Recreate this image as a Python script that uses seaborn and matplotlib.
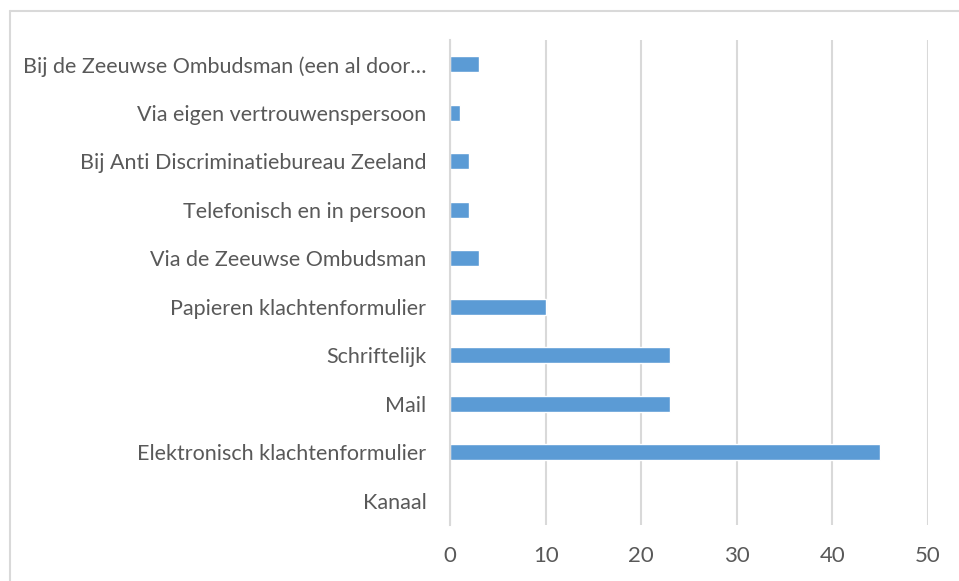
import matplotlib
matplotlib.use("Agg")
import matplotlib.pyplot as plt
import seaborn as sns
import pandas as pd
from matplotlib.lines import Line2D

categories = [
    "Bij de Zeeuwse Ombudsman (een al door\u2026",
    "Via eigen vertrouwenspersoon",
    "Bij Anti Discriminatiebureau Zeeland",
    "Telefonisch en in persoon",
    "Via de Zeeuwse Ombudsman",
    "Papieren klachtenformulier",
    "Schriftelijk",
    "Mail",
    "Elektronisch klachtenformulier",
    "Kanaal",
]
values = [3, 1, 2, 2, 3, 10, 23, 23, 45, 0]
x_ticks = [0, 10, 20, 30, 40, 50]

df = pd.DataFrame({"cat": categories, "val": values})

sns.set_theme(style="white")
plt.rcParams["font.family"] = ["Lato", "DejaVu Sans"]

W, H = 959, 581
fig = plt.figure(figsize=(W / 100, H / 100), dpi=100)
ax = fig.add_axes([450 / W, 1 - 525 / H, (928 - 450) / W, (525 - 40) / H])

sns.barplot(data=df, x="val", y="cat", orient="h", color="#5B9BD5",
            saturation=1, width=0.33, ax=ax, order=categories)

ax.set_xlim(0, 50)
ax.set_ylim(len(categories) - 0.5, -0.5)
ax.set_xticks(x_ticks)
ax.set_xlabel("")
ax.set_ylabel("")
ax.set_axisbelow(True)
ax.xaxis.grid(True, color="#D9D9D9", linewidth=1.5)
for s in ["top", "right", "bottom"]:
    ax.spines[s].set_visible(False)
ax.spines["left"].set_color("#D9D9D9")
ax.spines["left"].set_linewidth(1.5)
ax.tick_params(axis="both", length=0, colors="#595959", labelsize=15.5)
ax.tick_params(axis="x", labelsize=16)
ax.tick_params(axis="y", pad=17)
ax.tick_params(axis="x", pad=15)

# chart border (outer frame)
fig.add_artist(Line2D([9.5 / W, 9.5 / W], [0, 1 - 11 / H], transform=fig.transFigure,
                      color="#D9D9D9", linewidth=1.5))
fig.add_artist(Line2D([9.5 / W, 1], [1 - 11 / H, 1 - 11 / H], transform=fig.transFigure,
                      color="#D9D9D9", linewidth=1.5))

fig.savefig("out.png", dpi=100)
